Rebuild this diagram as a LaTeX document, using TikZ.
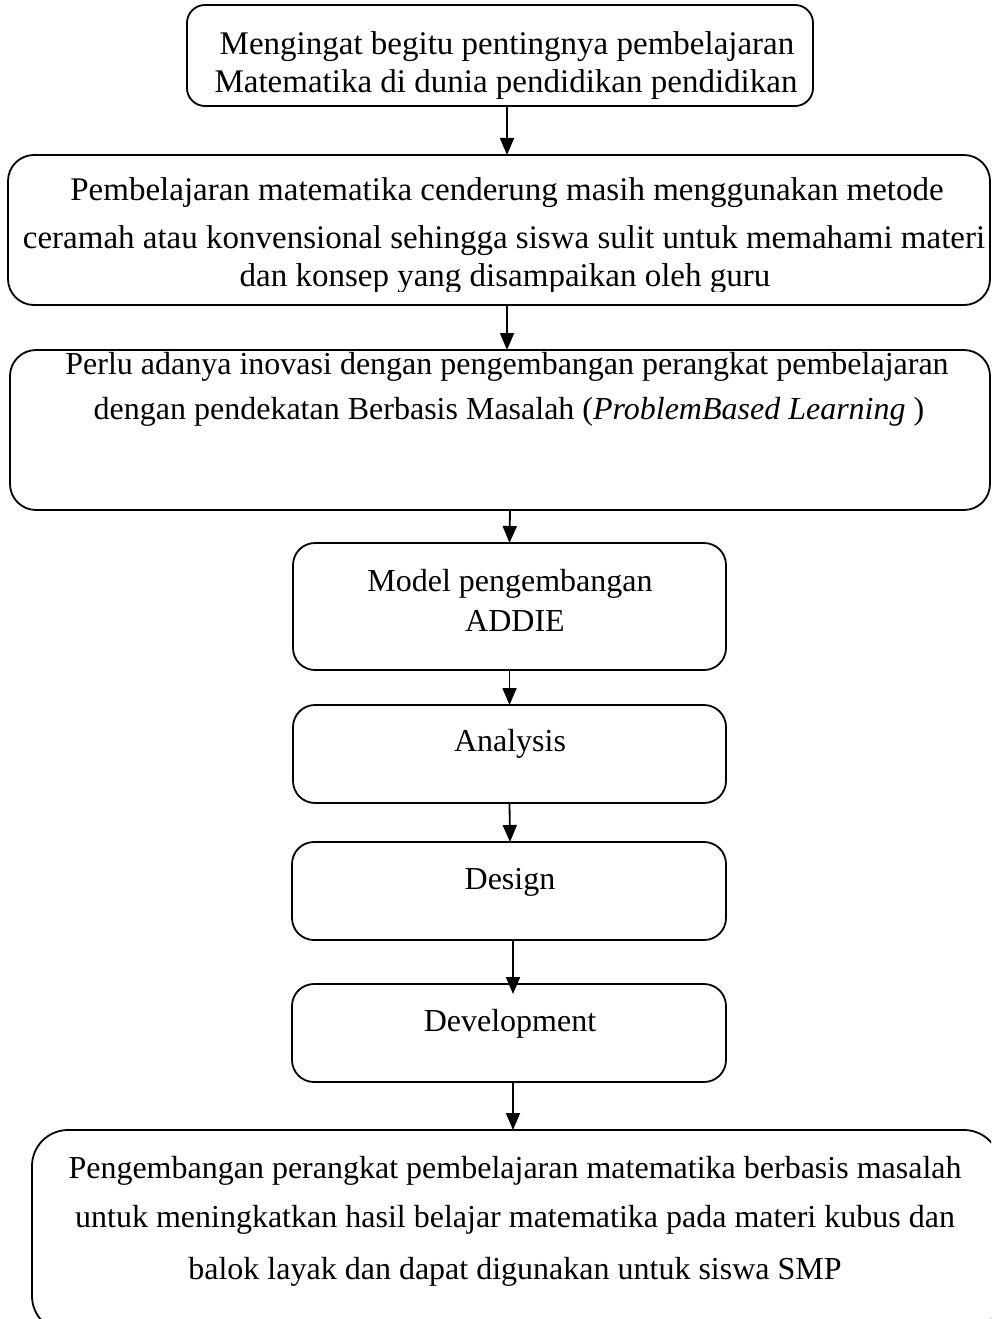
\documentclass[tikz,border=0pt]{standalone}
\usepackage{fontspec}
\setmainfont{Liberation Serif}
\usetikzlibrary{arrows.meta}
\begin{document}
\begin{tikzpicture}[x=1pt,y=-1pt,
  box/.style={draw, line width=1.8pt, inner sep=0pt, outer sep=0pt, rounded corners=#1},
  box/.default=20pt,
  txt/.style={anchor=base, inner sep=0pt, font=\fontsize{32}{38}\selectfont},
  bigtxt/.style={txt, font=\fontsize{33}{38}\selectfont},
  arr/.style={line width=1.8pt, -{Triangle[width=14pt,length=17pt]}}]
\useasboundingbox (0,0) rectangle (991,1319);
\clip (0,0) rectangle (991,1319);
% boxes
\node[box=18pt, minimum width=626pt, minimum height=101pt] (b1) at (500,55.5) {};
\node[box=26pt, minimum width=982pt, minimum height=150pt] (b2) at (499,230) {};
\node[box=26pt, minimum width=980pt, minimum height=160pt] (b3) at (500,430) {};
\node[box=22pt, minimum width=433pt, minimum height=127pt] (b4) at (509.5,606.5) {};
\node[box=22pt, minimum width=433pt, minimum height=98pt] (b5) at (509.5,754) {};
\node[box=22pt, minimum width=434pt, minimum height=98pt] (b6) at (509,891) {};
\node[box=22pt, minimum width=434pt, minimum height=98pt] (b7) at (509,1033) {};
\node[box=36pt, minimum width=968pt, minimum height=202pt] (b8) at (516,1231) {};
% texts
\begin{scope}
\clip (187,5) rectangle (813,99);
\node[bigtxt] (t1a) at (507,55) {Mengingat begitu pentingnya pembelajaran};
\node[bigtxt] (t1b) at (506,93) {Matematika di dunia pendidikan pendidikan};
\end{scope}
\begin{scope}
\clip (8,155) rectangle (990,291);
\node[bigtxt] (t2a) at (507,200) {Pembelajaran matematika cenderung masih menggunakan metode};
\node[bigtxt] (t2b) at (504,248) {ceramah atau konvensional sehingga siswa sulit untuk memahami materi};
\node[bigtxt] (t2c) at (505,286) {dan konsep yang disampaikan oleh guru};
\end{scope}
\node[txt] (t3a) at (507,374) {Perlu adanya inovasi dengan pengembangan perangkat pembelajaran};
\node[txt] (t3b) at (509,419) {dengan pendekatan Berbasis Masalah (\textit{ProblemBased Learning} )};
\node[txt] (t4a) at (510,591) {Model pengembangan};
\node[txt] (t4b) at (515,631) {ADDIE};
\node[txt] (t5) at (510,751) {Analysis};
\node[txt] (t6) at (510,889) {Design};
\node[txt] (t7) at (510,1031) {Development};
\node[txt] (t8a) at (515,1178) {Pengembangan perangkat pembelajaran matematika berbasis masalah};
\node[txt] (t8b) at (515,1227) {untuk meningkatkan hasil belajar matematika pada materi kubus dan};
\node[txt] (t8c) at (515,1279) {balok layak dan dapat digunakan untuk siswa SMP};
% arrows
\draw[arr] ([xshift=7pt]b1.south) -- ([xshift=8pt]b2.north);
\draw[arr] ([xshift=8pt]b2.south) -- ([xshift=7pt]b3.north);
\draw[arr] ([xshift=10pt]b3.south) -- (b4.north);
\draw[arr] (b4.south) -- (b5.north);
\draw[arr] (b5.south) -- ([xshift=1pt]b6.north);
\draw[arr] ([xshift=4pt]b6.south) -- ([xshift=4pt,yshift=-10pt]b7.north);
\draw[arr] ([xshift=4pt]b7.south) -- ([xshift=-3pt]b8.north);
\end{tikzpicture}
\end{document}
